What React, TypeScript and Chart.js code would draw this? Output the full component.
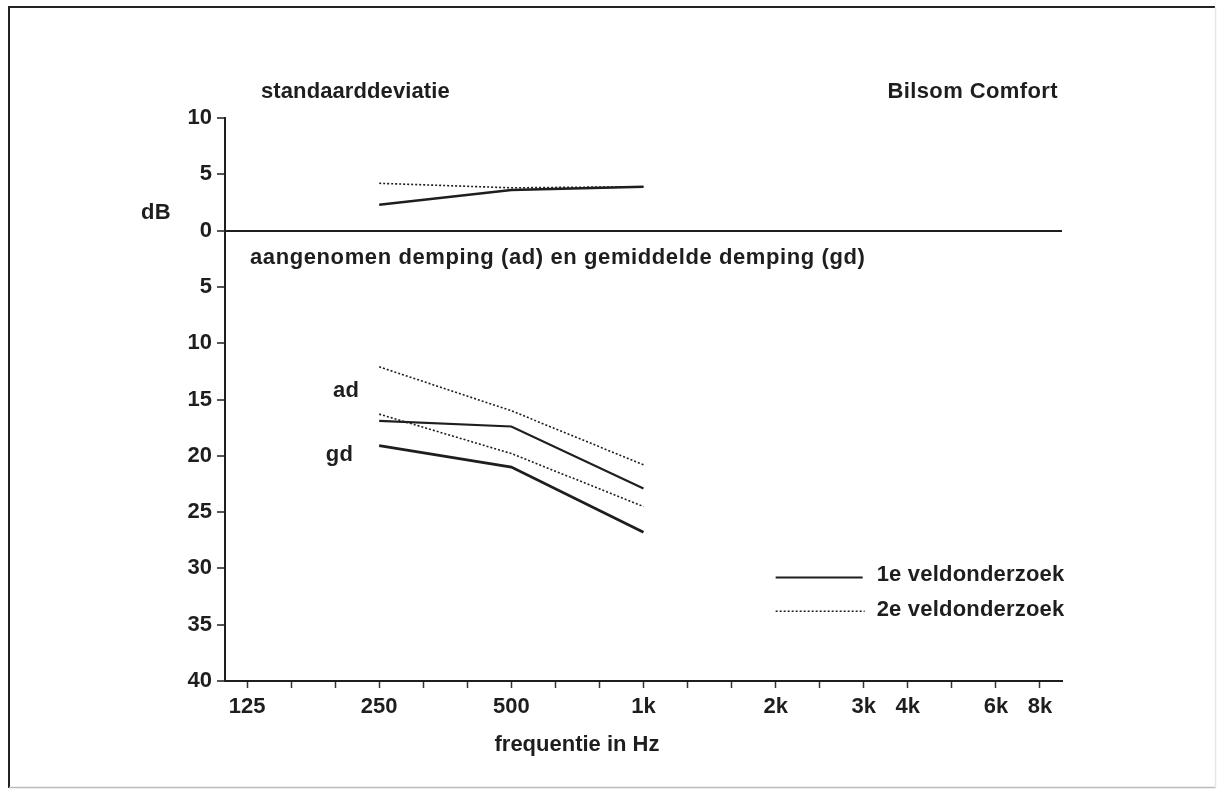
import React, { useEffect, useRef } from "react";
import { Chart, registerables } from "chart.js";

Chart.register(...registerables);

// third-octave band centre frequencies (Hz) on the x axis
const bands = ["125", "160", "200", "250", "315", "400", "500", "630", "800", "1000", "1250", "1600", "2000", "2500", "3150", "4000", "5000", "6300", "8000"];
// labels printed under some band ticks
const tickLabels: Record<string, string> = { "125": "125", "250": "250", "500": "500", "1000": "1k", "2000": "2k", "3150": "3k", "4000": "4k", "6300": "6k", "8000": "8k" };

const freqs = ["250", "500", "1000"];
// standaarddeviatie (dB)
const sd1 = [2.3, 3.6, 3.9];
const sd2 = [4.2, 3.8, 3.9];
// aangenomen demping (ad) en gemiddelde demping (gd), dB
const ad1 = [16.9, 17.4, 22.9];
const gd1 = [19.1, 21.0, 26.8];
const ad2 = [12.1, 16.0, 20.8];
const gd2 = [16.3, 19.8, 24.5];

const INK = "#1e1e1e";
const FONT = '"Liberation Sans", Arial, sans-serif';

const pts = (vals: number[], sign = 1) => vals.map((v, i) => ({ x: freqs[i], y: sign * v }));

const textPlugin = {
  id: "annotations",
  afterDraw(chart: any) {
    const { ctx, chartArea, scales } = chart;
    const xs = scales.x;
    const ys = scales.y;
    ctx.save();
    // figure frame
    ctx.strokeStyle = "#222";
    ctx.lineWidth = 2;
    ctx.beginPath();
    ctx.moveTo(9, 788);
    ctx.lineTo(9, 7);
    ctx.lineTo(1215, 7);
    ctx.stroke();
    ctx.strokeStyle = "#bbb";
    ctx.lineWidth = 1.5;
    ctx.beginPath();
    ctx.moveTo(9, 787.5);
    ctx.lineTo(1216, 787.5);
    ctx.stroke();
    ctx.strokeStyle = "#e6e6e6";
    ctx.beginPath();
    ctx.moveTo(1215.5, 7);
    ctx.lineTo(1215.5, 788);
    ctx.stroke();

    ctx.fillStyle = INK;
    ctx.font = `bold 22px ${FONT}`;
    ctx.textBaseline = "middle";

    const put = (t: string, x: number, y: number, align: CanvasTextAlign, sp = 0.3) => {
      try { (ctx as any).letterSpacing = `${sp}px`; } catch (e) {}
      ctx.textAlign = align;
      ctx.fillText(t, x, y);
    };
    put("standaarddeviatie", chartArea.left + 36, chartArea.top - 26, "left", 0.1);
    put("Bilsom Comfort", chartArea.right - 4, chartArea.top - 26, "right", 0.4);
    put("dB", 156, ys.getPixelForValue(-1.6), "center");
    put("aangenomen demping (ad) en gemiddelde demping (gd)", chartArea.left + 25, ys.getPixelForValue(2.4), "left", 0.6);
    const x250 = xs.getPixelForValue(xs.getLabels().indexOf("250"));
    put("ad", x250 - 20, ys.getPixelForValue(14.2), "right");
    put("gd", x250 - 26, ys.getPixelForValue(19.9), "right");
    put("frequentie in Hz", 577, 745, "center", 0);

    // legend
    const lx = xs.getPixelForValue(xs.getLabels().indexOf("2000"));
    const ly1 = ys.getPixelForValue(30.8);
    const ly2 = ys.getPixelForValue(33.8);
    ctx.strokeStyle = INK;
    ctx.lineWidth = 2;
    ctx.setLineDash([]);
    ctx.beginPath();
    ctx.moveTo(lx, ly1);
    ctx.lineTo(lx + 87, ly1);
    ctx.stroke();
    ctx.lineWidth = 1.5;
    ctx.setLineDash([2, 2]);
    ctx.beginPath();
    ctx.moveTo(lx, ly2);
    ctx.lineTo(lx + 89, ly2);
    ctx.stroke();
    ctx.setLineDash([]);
    put("1e veldonderzoek", lx + 101, ly1 - 2, "left", 0.2);
    put("2e veldonderzoek", lx + 101, ly2 - 1, "left", 0.2);
    ctx.restore();
  },
};

export default function App() {
  const ref = useRef<HTMLCanvasElement | null>(null);
  useEffect(() => {
    if (!ref.current) return;
    const solid = (data: any[], w: number) => ({ data, borderColor: INK, borderWidth: w, pointRadius: 0, tension: 0, fill: false });
    const dotted = (data: any[]) => ({ data, borderColor: INK, borderWidth: 1.6, borderDash: [2, 2], pointRadius: 0, tension: 0, fill: false });
    const chart = new Chart(ref.current, {
      type: "line",
      data: {
        labels: bands,
        datasets: [
          { label: "sd 1e", ...solid(pts(sd1, -1), 2.6) },
          { label: "sd 2e", ...dotted(pts(sd2, -1)) },
          { label: "ad 1e", ...solid(pts(ad1), 2.1) },
          { label: "gd 1e", ...solid(pts(gd1), 2.8) },
          { label: "ad 2e", ...dotted(pts(ad2)) },
          { label: "gd 2e", ...dotted(pts(gd2)) },
        ] as any,
      },
      options: {
        responsive: false,
        animation: false,
        devicePixelRatio: 1,
        layout: { padding: { left: 0, top: 118, right: 155, bottom: 0 } },
        plugins: { legend: { display: false }, tooltip: { enabled: false }, title: { display: false } },
        scales: {
          x: {
            type: "category",
            offset: true,
            grid: { drawOnChartArea: false, offset: false, tickLength: 7, tickColor: "#333", tickWidth: 1.5, color: "#333" },
            border: { display: true, color: INK, width: 2 },
            ticks: {
              autoSkip: false,
              maxRotation: 0,
              padding: 6,
              color: INK,
              font: { family: FONT, size: 22, weight: "bold" },
              callback: (_v: any, i: number) => tickLabels[bands[i]] ?? "",
            },
            afterFit: (s: any) => { s.height = 108; },
          },
          y: {
            type: "linear",
            min: -10,
            max: 40,
            reverse: true,
            grid: {
              color: (c: any) => (c.tick && c.tick.value === 0 ? INK : "rgba(0,0,0,0)"),
              lineWidth: 2,
              tickLength: 8,
              tickColor: INK,
              tickWidth: 1.5,
            },
            border: { display: true, color: INK, width: 2 },
            ticks: {
              stepSize: 5,
              padding: 5,
              color: INK,
              font: { family: FONT, size: 22, weight: "bold" },
              callback: (v: any) => String(Math.abs(Number(v))),
            },
            afterFit: (s: any) => { s.width = 225; },
          },
        },
      } as any,
      plugins: [textPlugin],
    });
    return () => chart.destroy();
  }, []);
  return (
    <canvas
      ref={ref}
      width={1217}
      height={789}
      style={{ position: "absolute", left: 0, top: 0, width: 1217, height: 789, display: "block", background: "#fff" }}
    />
  );
}
